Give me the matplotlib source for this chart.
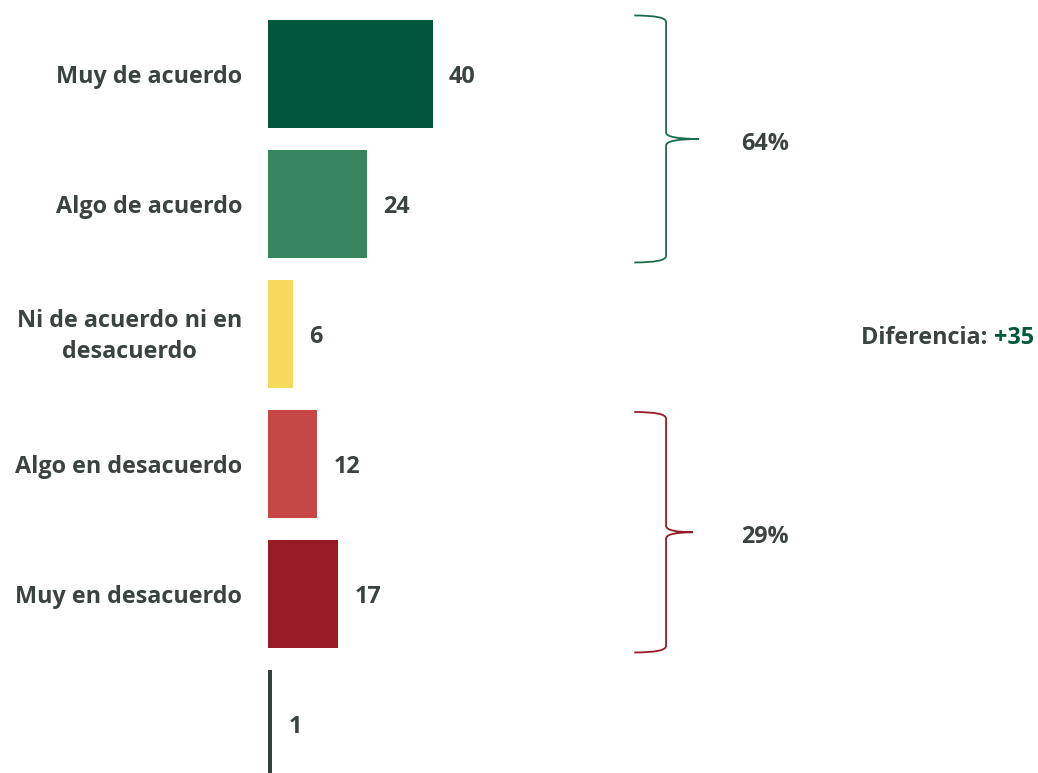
import matplotlib

matplotlib.use("Agg")
import matplotlib.pyplot as plt
from matplotlib.patches import PathPatch
from matplotlib.path import Path

# data
categories = [
    "Muy de acuerdo",
    "Algo de acuerdo",
    "Ni de acuerdo ni en\ndesacuerdo",
    "Algo en desacuerdo",
    "Muy en desacuerdo",
    "",
]
values = [40, 24, 6, 12, 17, 1]
colors = ["#00573b", "#378660", "#f5da5b", "#c64846", "#951b27", "#36403d"]
# label, first bar, last bar, colour, top padding
groups = [("64%", 0, 1, "#1d6b4a", 0.45), ("29%", 3, 4, "#951b27", 0.40)]
diff_label = "Diferencia: "
diff_value = "+35"

TEXT = "#3a4340"
FS = 16.8
plt.rcParams["font.family"] = ["Open Sans", "DejaVu Sans"]

fig = plt.figure(figsize=(10.38, 7.73), dpi=100)
ax = fig.add_axes([0, 0, 1, 1])
ax.set_xlim(-64.97, 186.67)
ax.set_ylim(5.377, -0.569)
ax.axis("off")

ypos = list(range(len(values)))
ax.barh(ypos, values, height=0.83, color=colors, left=0)

for y, v, cat in zip(ypos, values, categories):
    ax.text(v + 3.9, y + 0.025, str(v), ha="left", va="center",
            fontsize=FS, fontweight="bold", color=TEXT)
    if cat:
        ax.text(-6.3, y + 0.02, cat, ha="right", va="center", fontsize=FS,
                fontweight="bold", color=TEXT, linespacing=1.42,
                multialignment="center")


def bracket(ax, y0, y1, color, xt):
    x0, x1 = 88.8, 96.5
    r = 0.05
    ym = (y0 + y1) / 2
    verts = [
        (x0, y0), (x1, y0), (x1, y0 + r), (x1, y0 + r),
        (x1, ym - r), (x1, ym), (xt, ym),
        (x1, ym), (x1, ym + r), (x1, ym + r),
        (x1, y1 - r), (x1, y1), (x0, y1),
    ]
    codes = [
        Path.MOVETO, Path.CURVE3, Path.CURVE3, Path.LINETO,
        Path.LINETO, Path.CURVE3, Path.CURVE3,
        Path.CURVE3, Path.CURVE3, Path.LINETO,
        Path.LINETO, Path.CURVE3, Path.CURVE3,
    ]
    ax.add_patch(PathPatch(Path(verts, codes), fill=False, edgecolor=color,
                           linewidth=1.3))


for (label, i0, i1, col, pad), xt in zip(groups, [104.5, 103.0]):
    y0, y1 = i0 - pad, i1 + 0.45
    bracket(ax, y0, y1, col, xt)
    ax.text(120.6, (y0 + y1) / 2 + 0.04, label, ha="center", va="center",
            fontsize=FS, fontweight="bold", color=TEXT)

t = ax.text(0.996, 0, diff_value, ha="right", va="center", fontsize=FS,
            fontweight="bold", color="#00573b")
t.set_transform(matplotlib.transforms.blended_transform_factory(
    ax.transAxes, ax.transData))
t.set_position((0.996, 2.03))
fig.canvas.draw()
bb = t.get_window_extent()
ax.annotate(diff_label, xy=(bb.x0, bb.y0), xycoords="figure pixels",
            ha="right", va="bottom", fontsize=FS, fontweight="bold",
            color=TEXT)

fig.savefig("out.png", dpi=100)
